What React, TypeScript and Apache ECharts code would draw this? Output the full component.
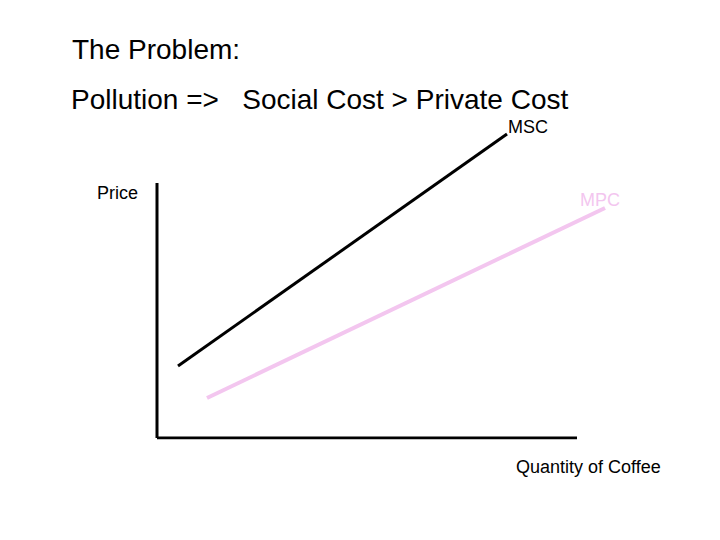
import React, { useEffect, useRef } from "react";
import * as echarts from "echarts";

// Schematic quantity / price coordinates (arbitrary units, origin at the axes' corner)
const yAxisLine: [number, number][] = [[0, 0], [0, 255]];
const xAxisLine: [number, number][] = [[0, 0], [420, 0]];
const mscPoints: [number, number][] = [[21, 72], [350, 304]];
const mpcPoints: [number, number][] = [[50, 40], [448, 230]];

const titleLines = ["The Problem:", "Pollution =>   Social Cost > Private Cost"];
const yAxisName = "Price";
const xAxisName = "Quantity of Coffee";
const seriesNames = ["MSC", "MPC"];

const FONT = "'Liberation Sans', Arial, Helvetica, sans-serif";
const PINK = "#f3c6ef";

export default function App() {
  const ref = useRef<HTMLDivElement>(null);
  useEffect(() => {
    if (!ref.current) return;
    const chart = echarts.init(ref.current, undefined, { renderer: "svg" });
    chart.setOption({
      animation: false,
      backgroundColor: "#ffffff",
      grid: { left: 157, bottom: 102, top: 120, right: 100 },
      xAxis: {
        type: "value", min: 0, max: 463,
        show: false,
      },
      yAxis: {
        type: "value", min: 0, max: 318,
        show: false,
      },
      graphic: [
        { type: "text", left: 72, top: 35, style: { text: titleLines[0], font: `28px ${FONT}`, fill: "#000" } },
        { type: "text", left: 71, top: 85, style: { text: titleLines[1], font: `28px ${FONT}`, fill: "#000" } },
        { type: "text", left: 97, top: 184, style: { text: yAxisName, font: `18px ${FONT}`, fill: "#000" } },
        { type: "text", left: 516, top: 458, style: { text: xAxisName, font: `18px ${FONT}`, fill: "#000" } },
      ],
      series: [
        {
          type: "line", data: yAxisLine, symbol: "none", silent: true,
          lineStyle: { color: "#000", width: 3, cap: "butt" },
        },
        {
          type: "line", data: xAxisLine, symbol: "none", silent: true,
          lineStyle: { color: "#000", width: 3, cap: "butt" },
        },
        {
          name: seriesNames[0], type: "line", data: mscPoints, symbol: "none",
          lineStyle: { color: "#000", width: 3 },
          endLabel: {
            show: true, formatter: seriesNames[0], position: "right",
            offset: [-7, -7], color: "#000", fontSize: 18, fontFamily: FONT,
          },
        },
        {
          name: seriesNames[1], type: "line", data: mpcPoints, symbol: "none",
          lineStyle: { color: PINK, width: 4 },
          endLabel: {
            show: true, formatter: seriesNames[1], position: "right",
            offset: [-33, -8], color: PINK, fontSize: 18, fontFamily: FONT,
          },
        },
      ],
    });
    return () => chart.dispose();
  }, []);
  return (
    <div
      ref={ref}
      style={{ position: "absolute", left: 0, top: 0, width: 720, height: 540 }}
    />
  );
}
